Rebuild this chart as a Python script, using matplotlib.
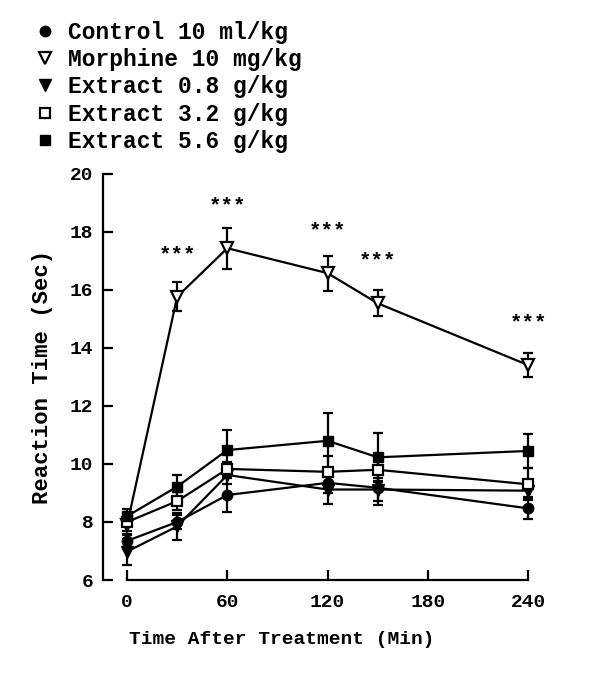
import numpy as np
import matplotlib.pyplot as plt
from matplotlib.lines import Line2D

# data (reaction time in sec, mean and SEM)
time_min = [0, 30, 60, 120, 150, 240]

control_mean = [7.35, 8.0, 8.93, 9.35, 9.18, 8.47]
control_sem = [0.2, 0.25, 0.6, 0.35, 0.6, 0.38]

morphine_mean = [7.9, 15.77, 17.44, 16.58, 15.54, 13.41]
morphine_sem = [0.3, 0.5, 0.7, 0.6, 0.45, 0.4]

ext08_mean = [6.98, 7.85, 9.62, 9.12, 9.12, 9.08]
ext08_sem = [0.45, 0.47, 0.3, 0.5, 0.4, 0.3]

ext32_mean = [8.0, 8.72, 9.83, 9.73, 9.8, 9.3]
ext32_sem = [0.3, 0.3, 0.25, 0.55, 0.4, 0.55]

ext56_mean = [8.2, 9.22, 10.48, 10.8, 10.23, 10.45]
ext56_sem = [0.25, 0.4, 0.7, 0.95, 0.85, 0.6]

labels = ['Control 10 ml/kg', 'Morphine 10 mg/kg', 'Extract 0.8 g/kg',
          'Extract 3.2 g/kg', 'Extract 5.6 g/kg']
star_times = [30, 60, 120, 150, 240]

# styling
font = 'Liberation Mono'
lw = 1.6
cap = 3.5

plt.rcParams['font.family'] = font
plt.rcParams['font.weight'] = 'bold'

fig = plt.figure(figsize=(6, 6.89), dpi=100)
ax = fig.add_axes([0.1717, 0.1582, 0.7224, 0.5893])

series = [
    (control_mean, control_sem, dict(marker='o', ms=7.5, mfc='black')),
    (morphine_mean, morphine_sem, dict(marker='v', ms=9, mfc='white', mew=1.6)),
    (ext08_mean, ext08_sem, dict(marker='v', ms=8, mfc='black')),
    (ext32_mean, ext32_sem, dict(marker='s', ms=6.5, mfc='white', mew=1.6)),
    (ext56_mean, ext56_sem, dict(marker='s', ms=6.5, mfc='black')),
]

handles = []
for mean, sem, style in series:
    ax.errorbar(time_min, mean, yerr=sem,
                color='black', linewidth=lw,
                elinewidth=lw, capsize=cap, capthick=lw,
                mec='black', clip_on=False, **style)
    handles.append(Line2D([], [], linestyle='', color='black', mec='black', **style))

# significance stars over morphine
for t in star_times:
    i = time_min.index(t)
    ax.text(t, morphine_mean[i] + 1.45, '***',
            ha='center', va='center', fontsize=15, fontweight='bold')

ax.set_xlim(-14.4, 245)
ax.set_ylim(6, 20)
ax.set_xticks([0, 60, 120, 180, 240])
ax.set_yticks(np.arange(6, 21, 2))

ax.spines['top'].set_visible(False)
ax.spines['right'].set_visible(False)
ax.spines['bottom'].set_bounds(0, 240)
ax.spines['left'].set_linewidth(lw)
ax.spines['bottom'].set_linewidth(lw)

ax.tick_params(axis='both', direction='in', length=7, width=lw, labelsize=14)
ax.tick_params(axis='x', pad=10)
ax.tick_params(axis='y', pad=7)

ax.set_xlabel('Time After Treatment (Min)', fontsize=14, fontweight='bold')
ax.xaxis.set_label_coords(0.413, -0.126)
ax.set_ylabel('Reaction Time (Sec)', fontsize=16, fontweight='bold', labelpad=12)

fig.legend(handles, labels, loc='upper left', bbox_to_anchor=(0.056, 0.97),
           frameon=False, borderpad=0, borderaxespad=0,
           handlelength=1.0, handletextpad=0.5, labelspacing=0.19,
           prop=dict(family=font, weight='bold', size=16.5))

fig.savefig('out.png', dpi=100)
